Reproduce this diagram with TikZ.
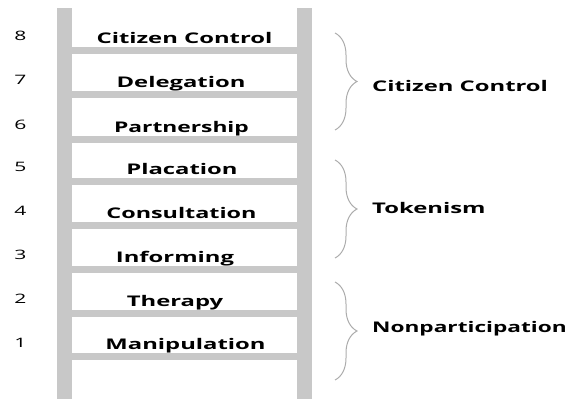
\documentclass[tikz,border=0pt]{standalone}
\usepackage{fontspec}
\setmainfont{Open Sans}
\usepackage{tikz}
\usetikzlibrary{decorations.pathreplacing}

\definecolor{railgray}{RGB}{200,200,200}
\definecolor{bracegray}{RGB}{172,172,172}
\newcommand{\wide}[2][1.62]{\scalebox{#1}[1]{#2}}

\begin{document}
\begin{tikzpicture}[
    x=1pt, y=-1pt,
    bar/.style={fill=railgray, draw=none},
    rungtext/.style={anchor=base, inner sep=0pt, font=\fontsize{14.7}{17}\selectfont\bfseries},
    rungnum/.style={anchor=base, inner sep=0pt, font=\fontsize{13}{15}\selectfont},
    grouptext/.style={anchor=base west, inner sep=0pt, font=\fontsize{14.7}{17}\selectfont\bfseries},
    curly/.style={draw=bracegray, line width=1pt, decorate, decoration={brace, amplitude=22pt}}
]
\useasboundingbox (0,0) rectangle (570,399);

% rails
\fill [bar] (57,8) rectangle (72,399);
\fill [bar] (297,8) rectangle (312,399);

% rungs
\fill [bar] (72,47) rectangle (297,54);
\fill [bar] (72,91) rectangle (297,98);
\fill [bar] (72,136) rectangle (297,143);
\fill [bar] (72,178) rectangle (297,185);
\fill [bar] (72,222) rectangle (297,229);
\fill [bar] (72,266) rectangle (297,273);
\fill [bar] (72,310) rectangle (297,317);
\fill [bar] (72,353) rectangle (297,360);

% rung names
\node (control) [rungtext] at (184.5,43) {\wide{Citizen Control}};
\node (delegation) [rungtext] at (181,87) {\wide{Delegation}};
\node (partnership) [rungtext] at (181.5,132) {\wide[1.55]{Partnership}};
\node (placation) [rungtext] at (182,174) {\wide{Placation}};
\node (consultation) [rungtext] at (181.5,218) {\wide[1.59]{Consultation}};
\node (informing) [rungtext] at (175,262) {\wide{Informing}};
\node (therapy) [rungtext] at (175,306) {\wide{Therapy}};
\node (manipulation) [rungtext] at (185.5,349) {\wide{Manipulation}};

% rung numbers
\node (n8) [rungnum] at (20.5,40) {\wide{8}};
\node (n7) [rungnum] at (20.5,84) {\wide{7}};
\node (n6) [rungnum] at (20.5,129) {\wide{6}};
\node (n5) [rungnum] at (20.5,171) {\wide{5}};
\node (n4) [rungnum] at (20.5,215) {\wide{4}};
\node (n3) [rungnum] at (20.5,259) {\wide{3}};
\node (n2) [rungnum] at (20.5,303) {\wide{2}};
\node (n1) [rungnum] at (20.5,347) {\wide{1}};

% braces and group names
\draw [curly] (335,33) -- (335,130);
\draw [curly] (335,160) -- (335,258);
\draw [curly] (335,282) -- (335,380);

\node (power) [grouptext] at (372,91) {\wide{Citizen Control}};
\node (tokenism) [grouptext] at (372,213) {\wide{Tokenism}};
\node (nonpart) [grouptext] at (372,332) {\wide[1.54]{Nonparticipation}};

\end{tikzpicture}
\end{document}
